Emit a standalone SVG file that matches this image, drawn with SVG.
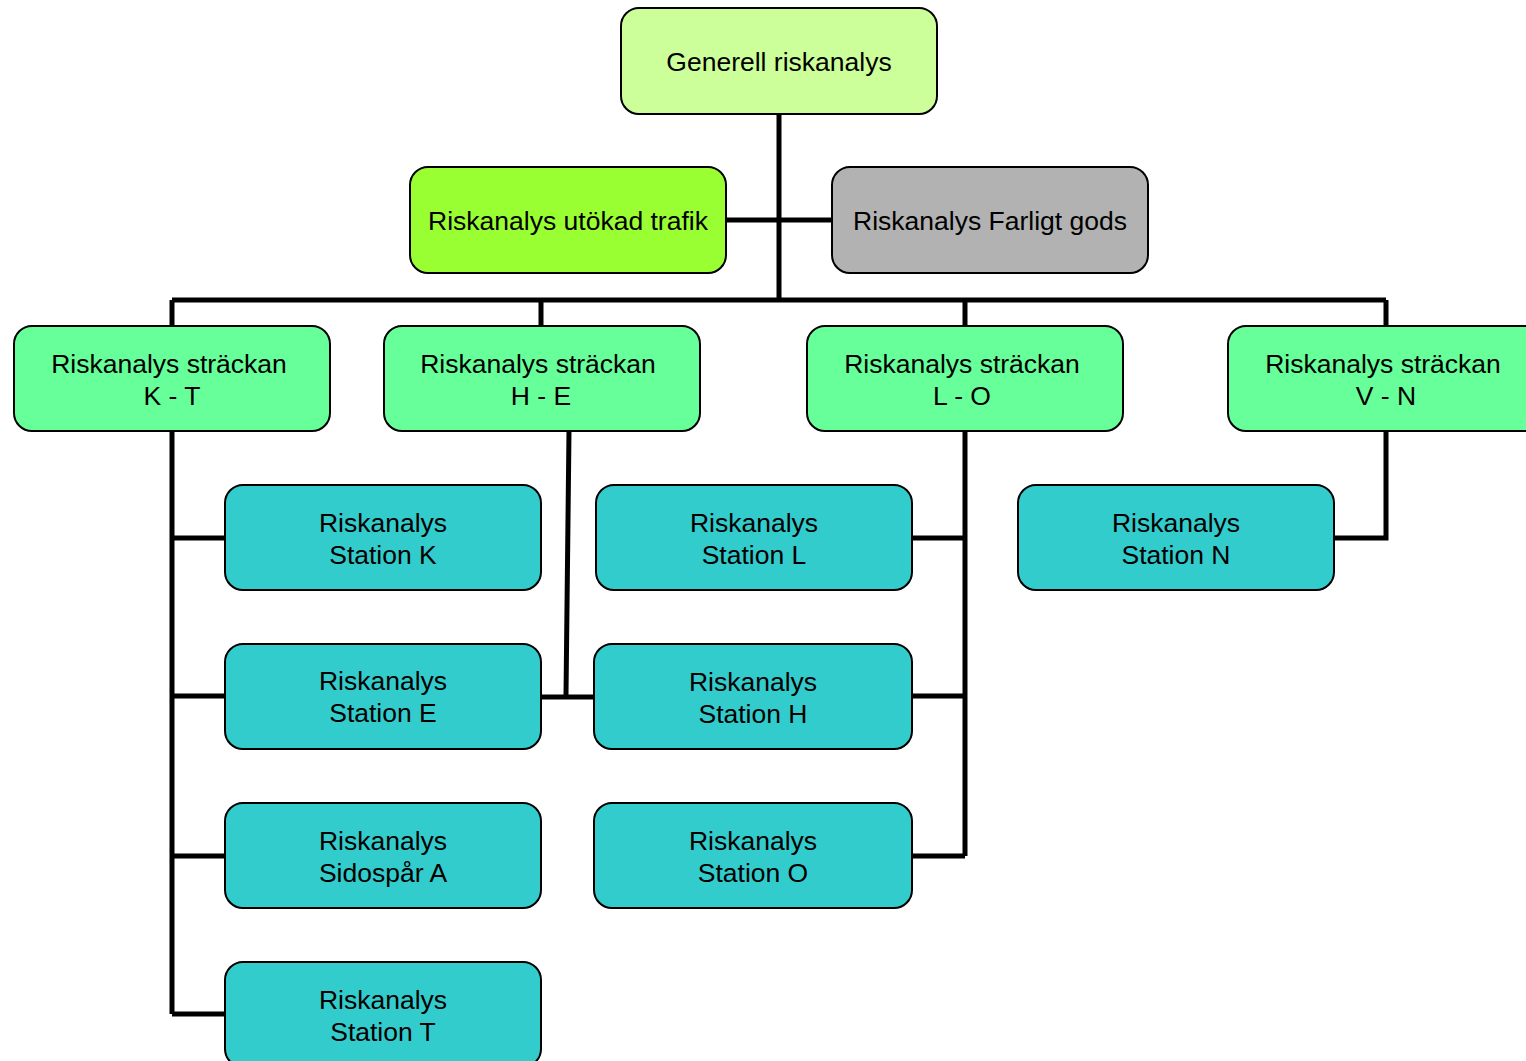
<svg xmlns="http://www.w3.org/2000/svg" width="1526" height="1061" viewBox="0 0 1526 1061">
<style>
.b{stroke:#000;stroke-width:2}
.top{fill:#ccff99}.ut{fill:#99ff33}.fg{fill:#b2b2b2}.st{fill:#66ff99}.sn{fill:#33cccc}
text{font-family:"Liberation Sans",Arial,sans-serif;font-size:26.5px;fill:#000;text-anchor:middle}
.c{stroke:#000;stroke-width:5;fill:none}
</style>
<rect width="1526" height="1061" fill="#fff"/>
<g id="connectors">
<path class="c" d="M779 114V300M726 220H832M172 300H1386M172 300V326M541 300V326M965 300V326M1386 300V326"/>
<path class="c" d="M172 431V1014M172 538H225M172 696H225M172 856H225M172 1014H225"/>
<path class="c" d="M569 431L566 695M541 697H594"/>
<path class="c" d="M965 431V856M912 538H965M912 696H965M912 856H965"/>
<path class="c" d="M1386 431V538H1334"/>
</g>
<g id="n-generell"><rect class="b top" x="621" y="8" width="316" height="106" rx="18"/><text x="779" y="71">Generell riskanalys</text></g>
<g id="n-utokad"><rect class="b ut" x="410" y="167" width="316" height="106" rx="18"/><text x="568" y="230">Riskanalys utökad trafik</text></g>
<g id="n-farligt"><rect class="b fg" x="832" y="167" width="316" height="106" rx="18"/><text x="990" y="230">Riskanalys Farligt gods</text></g>
<g id="n-kt"><rect class="b st" x="14" y="326" width="316" height="105" rx="18"/><text x="169" y="373">Riskanalys sträckan</text><text x="172" y="405">K - T</text></g>
<g id="n-he"><rect class="b st" x="384" y="326" width="316" height="105" rx="18"/><text x="538" y="373">Riskanalys sträckan</text><text x="541" y="405">H - E</text></g>
<g id="n-lo"><rect class="b st" x="807" y="326" width="316" height="105" rx="18"/><text x="962" y="373">Riskanalys sträckan</text><text x="962" y="405">L - O</text></g>
<g id="n-vn"><rect class="b st" x="1228" y="326" width="316" height="105" rx="18"/><text x="1383" y="373">Riskanalys sträckan</text><text x="1386" y="405">V - N</text></g>
<g id="n-k"><rect class="b sn" x="225" y="485" width="316" height="105" rx="18"/><text x="383" y="532">Riskanalys</text><text x="383" y="564">Station K</text></g>
<g id="n-l"><rect class="b sn" x="596" y="485" width="316" height="105" rx="18"/><text x="754" y="532">Riskanalys</text><text x="754" y="564">Station L</text></g>
<g id="n-n"><rect class="b sn" x="1018" y="485" width="316" height="105" rx="18"/><text x="1176" y="532">Riskanalys</text><text x="1176" y="564">Station N</text></g>
<g id="n-e"><rect class="b sn" x="225" y="644" width="316" height="105" rx="18"/><text x="383" y="690">Riskanalys</text><text x="383" y="722">Station E</text></g>
<g id="n-h"><rect class="b sn" x="594" y="644" width="318" height="105" rx="18"/><text x="753" y="691">Riskanalys</text><text x="753" y="723">Station H</text></g>
<g id="n-a"><rect class="b sn" x="225" y="803" width="316" height="105" rx="18"/><text x="383" y="850">Riskanalys</text><text x="383" y="882">Sidospår A</text></g>
<g id="n-o"><rect class="b sn" x="594" y="803" width="318" height="105" rx="18"/><text x="753" y="850">Riskanalys</text><text x="753" y="882">Station O</text></g>
<g id="n-t"><rect class="b sn" x="225" y="962" width="316" height="105" rx="18"/><text x="383" y="1009">Riskanalys</text><text x="383" y="1041">Station T</text></g>
</svg>
